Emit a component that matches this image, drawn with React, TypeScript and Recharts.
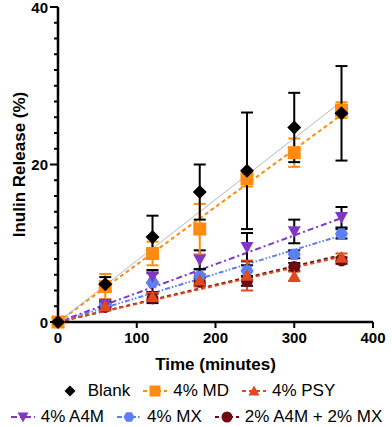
import React from "react";
import {
  ComposedChart,
  Line,
  Scatter,
  ErrorBar,
  XAxis,
  YAxis,
  Label,
} from "recharts";

// sampling times (minutes)
const times = [0, 60, 120, 180, 240, 300, 360];

// mean inulin release (%) per formulation
const blank = [0, 4.8, 10.8, 16.5, 19.2, 24.7, 26.5];
const md = [0, 4.5, 8.7, 11.8, 18.2, 21.5, 26.9];
const psy = [0, 2.0, 3.2, 5.3, 5.9, 5.8, 8.2];
const a4m = [0, 2.3, 5.8, 7.9, 9.5, 11.5, 13.3];
const mx = [0, 2.2, 5.0, 5.8, 6.5, 8.6, 11.2];
const combo = [0, 1.9, 3.0, 5.1, 5.2, 7.0, 7.8];

// standard deviations
const blankErr = [0, 0.9, 2.7, 3.5, 7.4, 4.4, 6.0];
const mdErr = [0, 1.6, 1.5, 3.2, 1.0, 1.8, 1.0];
const psyErr = [0, 0.4, 0.5, 0.8, 1.9, 0.6, 0.5];
const a4mErr = [0, 0.4, 0.8, 1.2, 1.8, 1.5, 1.3];
const mxErr = [0, 0.3, 1.2, 0.9, 0.7, 0.5, 0.6];
const comboErr = [0, 0.3, 0.6, 0.5, 0.6, 0.5, 0.4];

// linear fit lines, from origin to last time point
const fitTimes = [0, 360];
const fitBlank = [0, 28.0];
const fitMd = [0, 26.3];
const fitPsy = [0, 8.3];
const fitA4m = [0, 13.2];
const fitMx = [0, 11.0];
const fitCombo = [0, 8.5];

const xTicks = [0, 100, 200, 300, 400];
const yTicks = [0, 2, 4, 6, 8, 10, 12, 14, 16, 18, 20, 22, 24, 26, 28, 30, 32, 34, 36, 38, 40];
const yMajor = [0, 20, 40];

const FONT = "'Liberation Sans', Arial, sans-serif";

type Kind = "diamond" | "square" | "up" | "down" | "hex" | "circle";

function Marker({ kind, x, y, s, fill }: { kind: Kind; x: number; y: number; s: number; fill: string }) {
  const h = s / 2;
  if (kind === "diamond")
    return <polygon points={`${x},${y - h} ${x + h},${y} ${x},${y + h} ${x - h},${y}`} fill={fill} />;
  if (kind === "square") return <rect x={x - h} y={y - h} width={s} height={s} fill={fill} />;
  if (kind === "up")
    return <polygon points={`${x},${y - h} ${x + h},${y + h * 0.8} ${x - h},${y + h * 0.8}`} fill={fill} />;
  if (kind === "down")
    return <polygon points={`${x - h},${y - h * 0.8} ${x + h},${y - h * 0.8} ${x},${y + h}`} fill={fill} />;
  if (kind === "hex") {
    const r = h;
    const pts = [0, 60, 120, 180, 240, 300]
      .map((a) => {
        const t = (a * Math.PI) / 180;
        return `${x + r * Math.cos(t)},${y + r * Math.sin(t)}`;
      })
      .join(" ");
    return <polygon points={pts} fill={fill} />;
  }
  return <circle cx={x} cy={y} r={h} fill={fill} />;
}

const series = [
  { name: "2% A4M + 2% MX", vals: combo, err: comboErr, fit: fitCombo, color: "#6e0a12", errColor: "#000", kind: "circle" as Kind, size: 12, dash: "4 3" },
  { name: "4% MX", vals: mx, err: mxErr, fit: fitMx, color: "#5b7ff5", errColor: "#000", kind: "hex" as Kind, size: 13, dash: "5 2 1.5 2 1.5 2" },
  { name: "4% A4M", vals: a4m, err: a4mErr, fit: fitA4m, color: "#7e38c4", errColor: "#000", kind: "down" as Kind, size: 13, dash: "6 3 2 3" },
  { name: "4% PSY", vals: psy, err: psyErr, fit: fitPsy, color: "#e0481e", errColor: "#e0481e", kind: "up" as Kind, size: 13, dash: "4 3" },
  { name: "4% MD", vals: md, err: mdErr, fit: fitMd, color: "#ff8c10", errColor: "#ff8c10", kind: "square" as Kind, size: 13, dash: "4 3" },
  { name: "Blank", vals: blank, err: blankErr, fit: fitBlank, color: "#000000", errColor: "#000", kind: "diamond" as Kind, size: 14, dash: "" },
];

const legendRows = [["Blank", "4% MD", "4% PSY"], ["4% A4M", "4% MX", "2% A4M + 2% MX"]];

function YTick(props: any) {
  const { x, y, payload } = props;
  const major = yMajor.includes(payload.value);
  return (
    <g>
      <line x1={major ? x + 1 : x + 5} x2={x + 9} y1={y} y2={y} stroke="#000" strokeWidth={2} />
      {major && (
        <text x={x - 1} y={y} dy={5.5} textAnchor="end" fontFamily={FONT} fontWeight="bold" fontSize={15} fill="#000">
          {payload.value}
        </text>
      )}
    </g>
  );
}

function LegendItem({ s }: { s: (typeof series)[number] }) {
  const hasLine = s.name !== "Blank";
  return (
    <div style={{ display: "flex", alignItems: "center", margin: "0 6px" }}>
      <svg width={26} height={16} style={{ marginRight: 5 }}>
        {hasLine && (
          <line x1={1} x2={25} y1={8} y2={8} stroke={s.color} strokeWidth={2} strokeDasharray={s.dash || undefined} />
        )}
        <Marker kind={s.kind} x={13} y={8} s={11} fill={s.color} />
      </svg>
      <span>{s.name}</span>
    </div>
  );
}

export default function App() {
  return (
    <div style={{ position: "absolute", left: 0, top: 0, width: 392, height: 427, background: "#fff" }}>
      <ComposedChart width={392} height={427} margin={{ top: 7, right: 19, bottom: 57, left: 0 }}>
        <XAxis
          type="number"
          dataKey="t"
          domain={[0, 400]}
          ticks={xTicks}
          interval={0}
          height={48}
          tickSize={6}
          tickMargin={4}
          axisLine={{ stroke: "#000", strokeWidth: 2.5 }}
          tickLine={{ stroke: "#000", strokeWidth: 2 }}
          tick={{ fill: "#000", fontSize: 15, fontWeight: "bold", fontFamily: FONT }}
        >
          <Label
            value="Time (minutes)"
            position="insideBottom"
            offset={0}
            style={{ fontSize: 17, fontWeight: "bold", fontFamily: FONT, fill: "#000" }}
          />
        </XAxis>
        <YAxis
          type="number"
          domain={[0, 40]}
          ticks={yTicks}
          interval={0}
          width={58}
          tickSize={8}
          tickMargin={1}
          axisLine={{ stroke: "#000", strokeWidth: 2.5 }}
          tickLine={false}
          tick={<YTick />}
        >
          <Label
            content={(p: any) => {
              const vb = p.viewBox;
              const cx = vb.x + 19;
              const cy = vb.y + vb.height / 2;
              return (
                <text
                  x={cx}
                  y={cy}
                  transform={`rotate(-90, ${cx}, ${cy})`}
                  textAnchor="middle"
                  dominantBaseline="central"
                  fontFamily={FONT}
                  fontWeight="bold"
                  fontSize={17}
                  fill="#000"
                >
                  Inulin Release (%)
                </text>
              );
            }}
          />
        </YAxis>
        {series.map((s) => (
          <Line
            key={"fit-" + s.name}
            data={fitTimes.map((t, i) => ({ t, v: s.fit[i] }))}
            dataKey="v"
            stroke={s.name === "Blank" ? "#b8b8b8" : s.color}
            strokeWidth={s.name === "Blank" ? 1 : 2}
            strokeDasharray={s.dash || undefined}
            dot={false}
            activeDot={false}
            isAnimationActive={false}
            legendType="none"
          />
        ))}
        {series.map((s) => (
          <Scatter
            key={"pts-" + s.name}
            name={s.name}
            data={times.map((t, i) => ({ t, v: s.vals[i], e: s.err[i] }))}
            dataKey="v"
            isAnimationActive={false}
            shape={(p: any) => <Marker kind={s.kind} x={p.cx} y={p.cy} s={s.size} fill={s.color} />}
          >
            <ErrorBar dataKey="e" direction="y" width={6} stroke={s.errColor} strokeWidth={2} />
          </Scatter>
        ))}
      </ComposedChart>
      <div
        style={{
          position: "absolute",
          left: 0,
          top: 378,
          width: 392,
          fontFamily: FONT,
          fontSize: 17,
          color: "#000",
        }}
      >
        {legendRows.map((row, ri) => (
          <div key={ri} style={{ display: "flex", justifyContent: "center", height: 26, alignItems: "center" }}>
            {row.map((n) => (
              <LegendItem key={n} s={series.find((s) => s.name === n)!} />
            ))}
          </div>
        ))}
      </div>
    </div>
  );
}
